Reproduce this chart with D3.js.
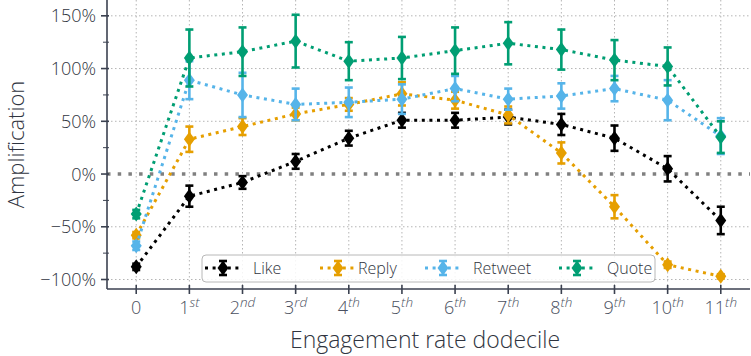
<!DOCTYPE html>
<html>
<head>
<meta charset="utf-8">
<script src="https://cdn.jsdelivr.net/npm/d3@7"></script>
<style>
  body { margin: 0; background: #fff; }
  svg { font-family: "Open Sans", Lato, sans-serif; font-weight: 300; }
</style>
</head>
<body>
<svg id="chart" width="751" height="356"></svg>
<script>
// dodecile index 0..11
let dodeciles = [0, 1, 2, 3, 4, 5, 6, 7, 8, 9, 10, 11]
let tickNums = ["0", "1", "2", "3", "4", "5", "6", "7", "8", "9", "10", "11"]
let tickSups = ["", "st", "nd", "rd", "th", "th", "th", "th", "th", "th", "th", "th"]

let seriesNames = ["Like", "Reply", "Retweet", "Quote"]
let seriesColors = ["#000000", "#E69F00", "#56B4E9", "#009E73"]

// amplification in %, and error half-widths in %
let likeVals = [-88, -21, -8, 12, 34, 51, 51, 54, 47, 34, 5, -44]
let likeErr = [3, 10, 6, 7, 7, 7, 7, 7, 10, 12, 12, 13]
let replyVals = [-58, 33, 45, 57, 66, 76, 70, 56, 20, -31, -86, -97]
let replyErr = [3, 12, 8, 6, 6, 11, 8, 8, 10, 11, 3, 2]
let retweetVals = [-68, 89, 75, 66, 68, 71, 81, 71, 74, 81, 70, 36]
let retweetErr = [4, 18, 21, 15, 14, 14, 12, 10, 12, 12, 19, 17]
let quoteVals = [-38, 110, 116, 126, 107, 110, 117, 124, 118, 108, 102, 35]
let quoteErr = [4, 27, 23, 25, 18, 20, 22, 20, 19, 19, 18, 15]

let yTicks = [-100, -50, 0, 50, 100, 150]
let yMinor = [-75, -25, 25, 75, 125]

let allVals = [likeVals, replyVals, retweetVals, quoteVals]
let allErr = [likeErr, replyErr, retweetErr, quoteErr]

let svg = d3.select("#chart")
let mLeft = 107, mRight = 750, mTop = 0, mBottom = 289
let axisColor = "#3b4150"

let x = d3.scaleLinear().domain([-0.55, 11.55]).range([mLeft, mRight])
let y = d3.scaleLinear().domain([-109, 165]).range([mBottom, mTop])

// grid
let grid = svg.append("g")
grid.selectAll(".gx").data(dodeciles).join("line")
  .attr("x1", d => x(d)).attr("x2", d => x(d))
  .attr("y1", mTop).attr("y2", mBottom)
  .attr("stroke", "#b5b5b5").attr("stroke-width", 1).attr("stroke-dasharray", "1.5 2.5")
grid.selectAll(".gy").data(yTicks.filter(d => d != 0)).join("line")
  .attr("x1", mLeft).attr("x2", mRight)
  .attr("y1", d => y(d)).attr("y2", d => y(d))
  .attr("stroke", "#b5b5b5").attr("stroke-width", 1).attr("stroke-dasharray", "1.5 2.5")

// zero line
svg.append("line")
  .attr("x1", mLeft).attr("x2", mRight)
  .attr("y1", y(0)).attr("y2", y(0))
  .attr("stroke", "#808080").attr("stroke-width", 3.5)
  .attr("stroke-dasharray", "3.5 7.2")

let line = d3.line().x((d, i) => x(dodeciles[i])).y(d => y(d))

function diamond(g, cx, cy, color) {
  g.append("path")
    .attr("d", `M${cx},${cy - 7.5}L${cx + 5.5},${cy}L${cx},${cy + 7.5}L${cx - 5.5},${cy}Z`)
    .attr("fill", color)
}

function errBar(g, cx, y1, y2, color) {
  g.append("line").attr("x1", cx).attr("x2", cx).attr("y1", y1).attr("y2", y2)
    .attr("stroke", color).attr("stroke-width", 2.6)
  ;[y1, y2].forEach(yy => {
    g.append("line").attr("x1", cx - 4).attr("x2", cx + 4).attr("y1", yy).attr("y2", yy)
      .attr("stroke", color).attr("stroke-width", 2.6)
  })
}

seriesNames.forEach((name, s) => {
  let g = svg.append("g")
  let color = seriesColors[s]
  g.append("path")
    .attr("d", line(allVals[s]))
    .attr("fill", "none")
    .attr("stroke", color)
    .attr("stroke-width", 3)
    .attr("stroke-dasharray", "3 4.6")
  allVals[s].forEach((v, i) => {
    let e = allErr[s][i]
    errBar(g, x(dodeciles[i]), y(v + e), y(v - e), color)
    diamond(g, x(dodeciles[i]), y(v), color)
  })
})

// axes
let yAxis = svg.append("g")
yAxis.append("line").attr("x1", mLeft).attr("x2", mLeft).attr("y1", mTop).attr("y2", mBottom)
  .attr("stroke", axisColor).attr("stroke-width", 1.6)
yAxis.selectAll(".maj").data(yTicks).join("line")
  .attr("x1", mLeft - 6).attr("x2", mLeft + 2).attr("y1", d => y(d)).attr("y2", d => y(d))
  .attr("stroke", axisColor).attr("stroke-width", 1.6)
yAxis.selectAll(".min").data(yMinor).join("line")
  .attr("x1", mLeft - 4).attr("x2", mLeft + 2).attr("y1", d => y(d)).attr("y2", d => y(d))
  .attr("stroke", axisColor).attr("stroke-width", 1)
yAxis.selectAll("text").data(yTicks).join("text")
  .attr("x", mLeft - 11).attr("y", d => y(d)).attr("dy", "0.36em")
  .attr("text-anchor", "end").attr("font-size", 18).attr("fill", "#2f3440")
  .text(d => (d < 0 ? "\u2212" : "") + Math.abs(d) + "%")

let xAxis = svg.append("g")
xAxis.append("line").attr("x1", mLeft).attr("x2", mRight).attr("y1", mBottom).attr("y2", mBottom)
  .attr("stroke", axisColor).attr("stroke-width", 1.6)
xAxis.selectAll("line.t").data(dodeciles).join("line")
  .attr("x1", d => x(d)).attr("x2", d => x(d)).attr("y1", mBottom - 4).attr("y2", mBottom + 5)
  .attr("stroke", axisColor).attr("stroke-width", 1.6)
let xl = xAxis.selectAll("text").data(dodeciles).join("text")
  .attr("x", d => x(d)).attr("y", 314)
  .attr("text-anchor", "middle").attr("font-size", 18).attr("fill", "#4a5060")
xl.append("tspan").text(d => tickNums[d])
xl.append("tspan").attr("dy", -7).attr("font-size", 13.5).attr("font-style", "italic")
  .text(d => tickSups[d])

// axis titles
svg.append("text")
  .attr("transform", `translate(24,${(mTop + mBottom) / 2}) rotate(-90)`)
  .attr("text-anchor", "middle").attr("font-size", 22).attr("fill", "#2f3440")
  .text("Amplification")
svg.append("text")
  .attr("x", 425).attr("y", 348)
  .attr("text-anchor", "middle").attr("font-size", 23).attr("fill", "#2f3440")
  .text("Engagement rate dodecile")

// legend
let leg = svg.append("g")
leg.append("rect")
  .attr("x", 202).attr("y", 255).attr("width", 453).attr("height", 27).attr("rx", 4)
  .attr("fill", "#fff").attr("fill-opacity", 0.85)
  .attr("stroke", "#b8b8b8").attr("stroke-width", 1)
let legX = [223, 338, 443, 577]
let legTextX = [253, 358, 473, 607]
seriesNames.forEach((name, s) => {
  let cx = legX[s], cy = 268
  let color = seriesColors[s]
  leg.append("line").attr("x1", cx - 18).attr("x2", cx + 18).attr("y1", cy).attr("y2", cy)
    .attr("stroke", color).attr("stroke-width", 3).attr("stroke-dasharray", "3 4.6")
  errBar(leg, cx, cy - 7, cy + 7, color)
  diamond(leg, cx, cy, color)
  leg.append("text").attr("x", legTextX[s]).attr("y", cy).attr("dy", "0.36em")
    .attr("font-size", 16).attr("fill", "#2f3440").text(name)
})
</script>
</body>
</html>
